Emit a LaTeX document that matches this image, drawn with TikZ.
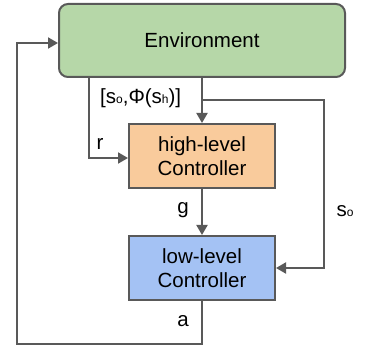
\documentclass[tikz,border=0pt]{standalone}
\usepackage{fontspec}
\setmainfont{Liberation Sans}
\usetikzlibrary{arrows.meta}
\definecolor{envfill}{HTML}{B6D7A8}
\definecolor{hifill}{HTML}{F9CB9C}
\definecolor{lofill}{HTML}{A4C2F4}
\definecolor{edge}{HTML}{595959}
\newcommand\subsc[1]{\raisebox{-0.5pt}{\fontsize{12}{12}\selectfont #1}}
\tikzset{
  box/.style={draw=edge, line width=2pt, minimum width=146pt, minimum height=64pt, align=center, inner sep=0pt, font=\fontsize{20.5}{23.5}\selectfont},
  conn/.style={draw=edge, line width=2pt},
  arr/.style={conn, -{Triangle[length=10pt,width=11pt]}},
  lbl/.style={inner sep=0pt, font=\fontsize{20.5}{23.5}\selectfont}
}
\begin{document}
\begin{tikzpicture}[x=1pt,y=-1pt]
\useasboundingbox (0,0) rectangle (376,345);
\node[box, fill=envfill, rounded corners=9pt, minimum width=286pt, minimum height=73pt] (env) at (202,40.5) {Environment};
\node[box, fill=hifill] (hi) at (202,156) {high-level\\Controller};
\node[box, fill=lofill] (lo) at (202,268) {low-level\\Controller};
\coordinate (rtop) at (89,77);
\coordinate (rbot) at (89,158);
\coordinate (sb) at (202,100);
\coordinate (sr) at (324,100);
\coordinate (sd) at (324,268);
\coordinate (ab) at (202,344);
\coordinate (al) at (17,344);
\coordinate (at) at (17,43);
\draw[arr] (env.south) -- (hi.north);
\draw[arr] (rtop) -- (rbot) -- (hi.west |- rbot);
\draw[arr] (sb) -- (sr) -- (sd) -- (lo.east |- sd);
\draw[arr] (hi.south) -- (lo.north);
\draw[arr] (lo.south) -- (ab) -- (al) -- (at) -- (env.west |- at);
\node[lbl, anchor=west] (lst) at (100,98) {[s\subsc{o},Φ(s\subsc{h})]};
\node[lbl] (lr) at (100,144) {r};
\node[lbl] (lg) at (183,210) {g};
\node[lbl] (lso) at (345,211) {s\subsc{o}};
\node[lbl] (la) at (183,321) {a};
\end{tikzpicture}
\end{document}
